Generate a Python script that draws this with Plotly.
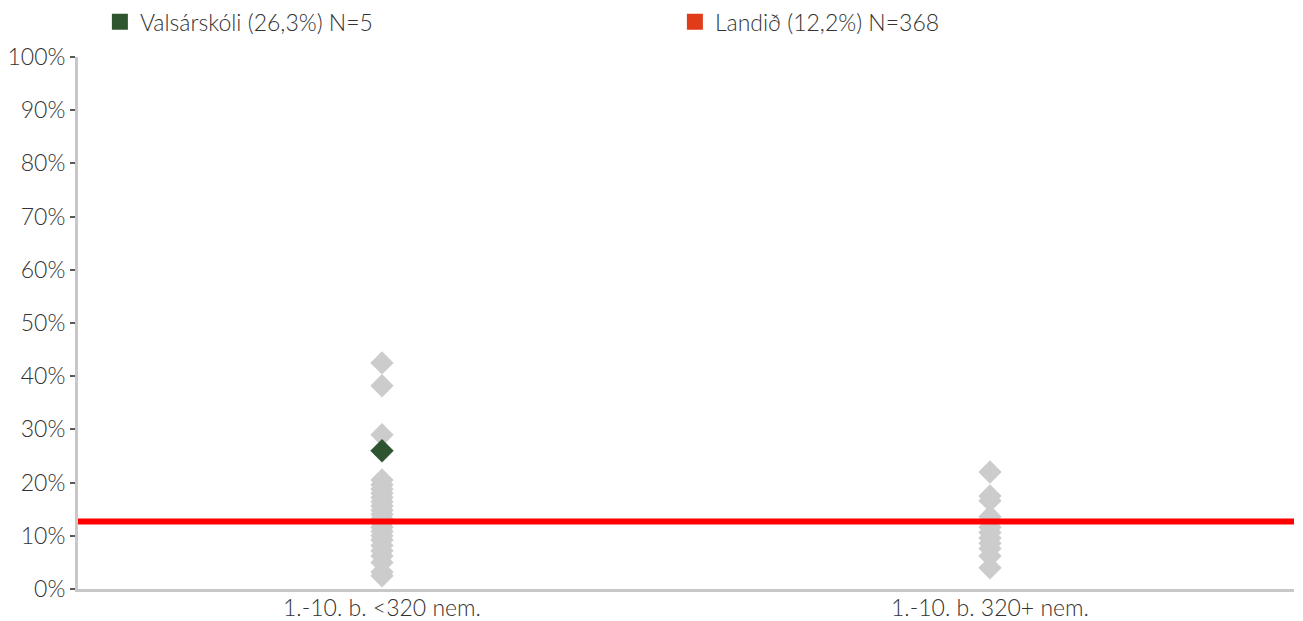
import plotly.graph_objects as go

categories = ["1.-10. b. <320 nem.", "1.-10. b. 320+ nem."]

# Other schools (grey diamonds), percent values per category
others_small = [42.5, 38.2, 29.0, 20.5, 19.6, 18.8, 18.0, 17.2, 16.4, 15.6, 14.8, 14.0,
                13.2, 12.4, 11.6, 10.8, 10.0, 9.2, 8.2, 7.2, 6.2, 5.0, 3.2, 2.5]
others_large = [22.0, 17.5, 16.6, 13.6, 12.6, 11.6, 10.6, 9.6, 8.6, 7.6, 6.2, 4.0]

school_name = "Valsárskóli (26,3%) N=5"
school_category = categories[0]
school_value = 26.0

national_name = "Landið (12,2%) N=368"
national_value = 12.7

y_ticks = list(range(0, 101, 10))
y_ticktext = [f"{v}%" for v in y_ticks]

GREY = "#cccccc"
GREEN = "#2f5530"
RED_LINE = "#ff0000"
RED_LEGEND = "#e03c1a"
TEXT = "#333333"
FONT = "Lato"

fig = go.Figure()

fig.add_trace(go.Scatter(
    x=[categories[0]] * len(others_small), y=others_small,
    mode="markers", marker=dict(symbol="diamond", size=18, color=GREY),
    showlegend=False, hoverinfo="y"))
fig.add_trace(go.Scatter(
    x=[categories[1]] * len(others_large), y=others_large,
    mode="markers", marker=dict(symbol="diamond", size=18, color=GREY),
    showlegend=False, hoverinfo="y"))

fig.add_shape(type="line", xref="paper", yref="y", x0=0, x1=1,
              y0=national_value, y1=national_value,
              line=dict(color=RED_LINE, width=6), layer="above")

fig.add_trace(go.Scatter(
    x=[school_category], y=[school_value],
    mode="markers", marker=dict(symbol="diamond", size=18, color=GREEN),
    showlegend=False, hoverinfo="y"))

# Legend entries
fig.add_trace(go.Scatter(
    x=[None], y=[None], mode="markers", name=school_name,
    marker=dict(symbol="square", size=17, color=GREEN)))
fig.add_trace(go.Scatter(
    x=[None], y=[None], mode="markers", name=national_name,
    marker=dict(symbol="square", size=17, color=RED_LEGEND)))

fig.update_layout(
    width=1295, height=613,
    margin=dict(l=70, r=9, t=49, b=32, autoexpand=False),
    paper_bgcolor="white", plot_bgcolor="white",
    font=dict(family=FONT, size=23, color=TEXT, weight=300),
    showlegend=True,
    legend=dict(orientation="h", x=0.018, xanchor="left", y=1.066, yanchor="middle",
                entrywidth=530, entrywidthmode="pixels",
                font=dict(family=FONT, size=23, color=TEXT, weight=300),
                itemsizing="trace", bgcolor="rgba(0,0,0,0)"),
    xaxis=dict(type="category", categoryorder="array", categoryarray=categories,
               range=[-0.5, 1.5], showline=True, linecolor="#c8c8c8", linewidth=3,
               ticks="", showgrid=False, zeroline=False, automargin=False,
               ticklabelstandoff=-4,
               tickfont=dict(family=FONT, size=23, color=TEXT, weight=300)),
    yaxis=dict(range=[0, 100], tickvals=y_ticks, ticktext=y_ticktext,
               showline=True, linecolor="#c8c8c8", linewidth=3,
               ticks="outside", ticklen=5, tickwidth=2, tickcolor="#595959",
               showgrid=False, zeroline=False, automargin=False,
               tickfont=dict(family=FONT, size=23, color=TEXT, weight=300)),
)

fig.write_html("out.html")
